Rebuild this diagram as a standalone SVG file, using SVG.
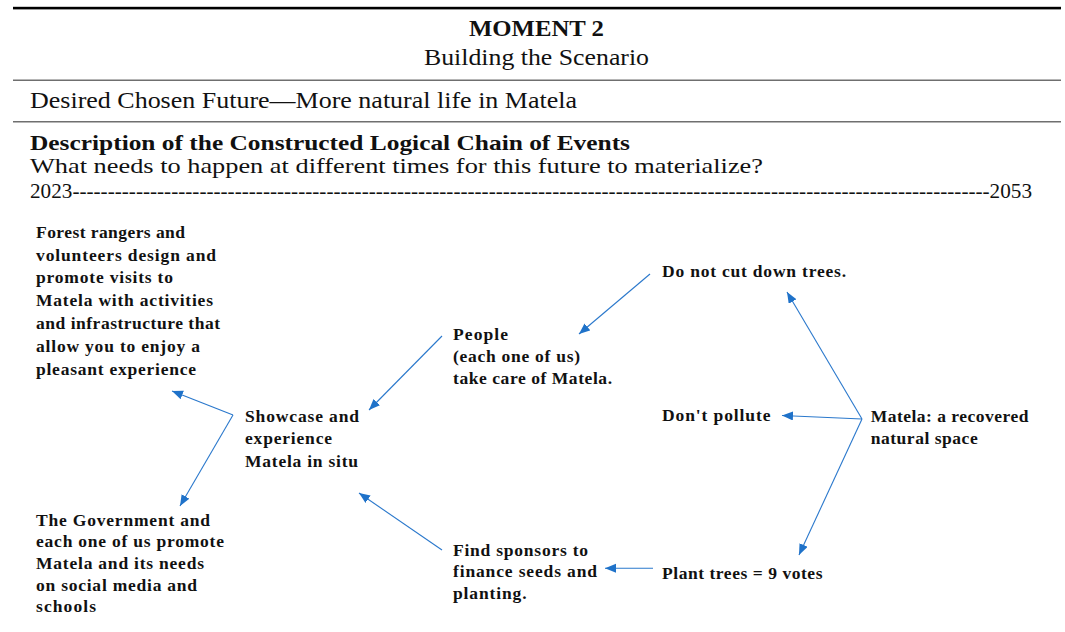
<svg xmlns="http://www.w3.org/2000/svg" width="1065" height="632" viewBox="0 0 1065 632">
  <style>
    .hd { font-family: "Liberation Serif", "Times New Roman", serif; font-size: 23px; fill: #111; }
    .hs { font-size: 21.5px; }
    .hb { font-weight: bold; }
    .lbl { font-family: "Liberation Serif", "Times New Roman", serif; font-size: 17.5px; font-weight: bold; fill: #111; }
    .conn { stroke: #2a78cc; stroke-width: 1.1; fill: none; marker-end: url(#head); }
    .rule { fill: #6f6f6f; }
  </style>
  <defs>
    <marker id="head" markerUnits="userSpaceOnUse" markerWidth="12" markerHeight="10" refX="11" refY="4.5" orient="auto">
      <path d="M0,0 L11,4.5 L0,9 z" fill="#1f72c9"/>
    </marker>
  </defs>

  <rect width="1065" height="632" fill="#ffffff"/>

  <!-- table rules -->
  <rect x="13" y="6.8" width="1048" height="2.6" fill="#000"/>
  <rect class="rule" x="13" y="79.5" width="1048" height="1.5"/>
  <rect class="rule" x="13" y="121" width="1048" height="1.5"/>

  <!-- header block -->
  <g id="header">
    <text class="hd hb" x="469" y="36" textLength="135" lengthAdjust="spacingAndGlyphs">MOMENT 2</text>
    <text class="hd" x="424" y="65" textLength="225" lengthAdjust="spacingAndGlyphs">Building the Scenario</text>
    <text class="hd" x="30" y="108" textLength="547" lengthAdjust="spacingAndGlyphs">Desired Chosen Future—More natural life in Matela</text>
    <text class="hd hs hb" x="30" y="150" textLength="600" lengthAdjust="spacingAndGlyphs">Description of the Constructed Logical Chain of Events</text>
    <text class="hd hs" x="30" y="172.5" textLength="733" lengthAdjust="spacingAndGlyphs">What needs to happen at different times for this future to materialize?</text>
    <text class="hd" x="30" y="198" style="font-size:21px" textLength="1002" lengthAdjust="spacingAndGlyphs">2023----------------------------------------------------------------------------------------------------------------------------------2053</text>
  </g>

  <!-- nodes -->
  <g id="node-forest-rangers">
    <text class="lbl" x="36" y="237.7" textLength="149">Forest rangers and</text>
    <text class="lbl" x="36" y="260.5" textLength="180">volunteers design and</text>
    <text class="lbl" x="36" y="283.3" textLength="137">promote visits to</text>
    <text class="lbl" x="36" y="306.1" textLength="177">Matela with activities</text>
    <text class="lbl" x="36" y="328.9" textLength="184">and infrastructure that</text>
    <text class="lbl" x="36" y="351.7" textLength="164">allow you to enjoy a</text>
    <text class="lbl" x="36" y="374.5" textLength="160">pleasant experience</text>
  </g>

  <g id="node-showcase">
    <text class="lbl" x="245" y="421.5" textLength="114">Showcase and</text>
    <text class="lbl" x="245" y="444" textLength="87">experience</text>
    <text class="lbl" x="245" y="466.5" textLength="113">Matela in situ</text>
  </g>

  <g id="node-government">
    <text class="lbl" x="36" y="525.7" textLength="174">The Government and</text>
    <text class="lbl" x="36" y="547.3" textLength="188">each one of us promote</text>
    <text class="lbl" x="36" y="568.9" textLength="168">Matela and its needs</text>
    <text class="lbl" x="36" y="590.5" textLength="161">on social media and</text>
    <text class="lbl" x="36" y="612.1" textLength="60">schools</text>
  </g>

  <g id="node-people">
    <text class="lbl" x="453" y="340" textLength="55">People</text>
    <text class="lbl" x="453" y="362" textLength="127">(each one of us)</text>
    <text class="lbl" x="453" y="384.3" textLength="159">take care of Matela.</text>
  </g>

  <g id="node-sponsors">
    <text class="lbl" x="453" y="555.7" textLength="135">Find sponsors to</text>
    <text class="lbl" x="453" y="577.3" textLength="144">finance seeds and</text>
    <text class="lbl" x="453" y="599" textLength="73.5">planting.</text>
  </g>

  <g id="node-no-cutting">
    <text class="lbl" x="662" y="276.7" textLength="184">Do not cut down trees.</text>
  </g>

  <g id="node-no-pollution">
    <text class="lbl" x="662" y="420.7" textLength="108.5">Don't pollute</text>
  </g>

  <g id="node-plant-trees">
    <text class="lbl" x="662" y="579" textLength="160.5">Plant trees = 9 votes</text>
  </g>

  <g id="node-matela">
    <text class="lbl" x="870.7" y="422.3" textLength="157.7">Matela: a recovered</text>
    <text class="lbl" x="870.7" y="444.3" textLength="107">natural space</text>
  </g>

  <!-- connectors -->
  <g id="connectors">
    <line class="conn" x1="233" y1="415" x2="172" y2="391"/>
    <line class="conn" x1="233" y1="415" x2="180" y2="506"/>
    <line class="conn" x1="442" y1="336" x2="369" y2="410"/>
    <line class="conn" x1="650" y1="274" x2="579" y2="334"/>
    <line class="conn" x1="862" y1="419" x2="787" y2="292"/>
    <line class="conn" x1="862" y1="419" x2="782" y2="415.5"/>
    <line class="conn" x1="862" y1="419" x2="799" y2="555"/>
    <line class="conn" x1="653" y1="568.3" x2="605" y2="568.3"/>
    <line class="conn" x1="442" y1="550" x2="359" y2="493"/>
  </g>
</svg>
